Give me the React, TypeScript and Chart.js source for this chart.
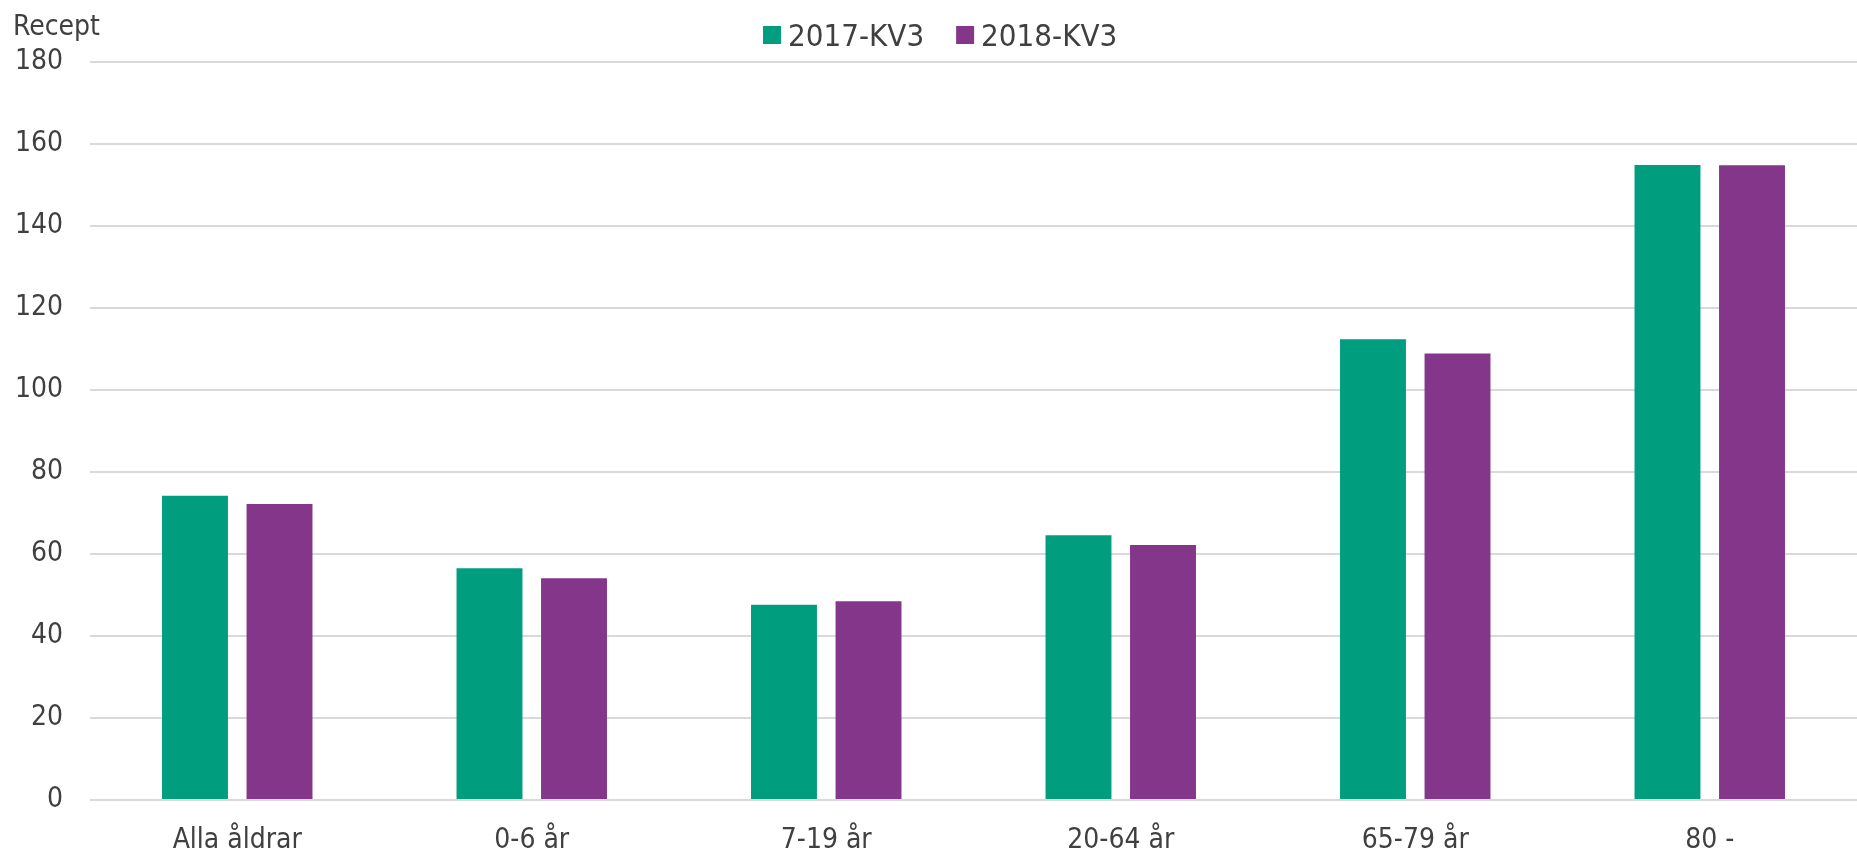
import React, { useEffect, useRef } from "react";
import { Chart, registerables } from "chart.js";

Chart.register(...registerables);

const categories = ["Alla åldrar", "0-6 år", "7-19 år", "20-64 år", "65-79 år", "80 -"];
const series2017 = [74.2, 56.5, 47.6, 64.6, 112.4, 154.9];
const series2018 = [72.2, 54.1, 48.5, 62.2, 108.9, 154.8];
const seriesLabels = ["2017-KV3", "2018-KV3"];
const seriesColors = ["#009E7E", "#83368A"];
const yTicks = [0, 20, 40, 60, 80, 100, 120, 140, 160, 180];
const yAxisLabel = "Recept";

const FONT = "'DejaVu Sans Condensed', 'DejaVu Sans', sans-serif";
const TEXT = "#404040";

const overlayPlugin = {
  id: "overlay",
  afterDraw(chart: any) {
    const ctx = chart.ctx;
    ctx.save();
    ctx.fillStyle = TEXT;
    ctx.textAlign = "left";
    ctx.textBaseline = "alphabetic";
    ctx.font = `28px ${FONT}`;
    ctx.fillText(yAxisLabel, 13, 35);

    // legend
    ctx.font = `31px ${FONT}`;
    let x = 763;
    chart.data.datasets.forEach((ds: any) => {
      ctx.fillStyle = ds.backgroundColor;
      ctx.fillRect(x, 26, 18, 18);
      x += 25;
      ctx.fillStyle = TEXT;
      ctx.fillText(ds.label, x, 46);
      x += ctx.measureText(ds.label).width + 32;
    });
    ctx.restore();
  },
};

export default function App() {
  const ref = useRef<HTMLCanvasElement>(null);
  useEffect(() => {
    if (!ref.current) return;
    const chart = new Chart(ref.current, {
      type: "bar",
      data: {
        labels: categories,
        datasets: [
          {
            label: seriesLabels[0],
            data: series2017,
            backgroundColor: seriesColors[0],
            categoryPercentage: 0.574,
            barPercentage: 0.78,
          },
          {
            label: seriesLabels[1],
            data: series2018,
            backgroundColor: seriesColors[1],
            categoryPercentage: 0.574,
            barPercentage: 0.78,
          },
        ],
      },
      options: {
        animation: false,
        responsive: true,
        maintainAspectRatio: false,
        layout: { padding: { left: 0, right: 0, top: 62, bottom: 0 } },
        plugins: {
          legend: { display: false },
          tooltip: { enabled: false },
        },
        scales: {
          x: {
            grid: { display: false, drawTicks: false },
            border: { display: false },
            ticks: { font: { family: FONT, size: 28 }, color: TEXT, padding: 24 },
            afterFit(scale: any) {
              scale.height = 52;
            },
          },
          y: {
            min: 0,
            max: 180,
            afterBuildTicks(scale: any) {
              scale.ticks = yTicks.map((v) => ({ value: v }));
            },
            grid: { color: "#d9d9d9", lineWidth: 2, drawTicks: false },
            border: { display: false },
            ticks: { font: { family: FONT, size: 28 }, color: TEXT, padding: 27 },
            afterFit(scale: any) {
              scale.width = 90;
            },
          },
        },
      },
      plugins: [overlayPlugin],
    });
    return () => chart.destroy();
  }, []);
  return (
    <div style={{ position: "absolute", left: 0, top: 0, width: 1857, height: 852 }}>
      <canvas ref={ref} />
    </div>
  );
}
